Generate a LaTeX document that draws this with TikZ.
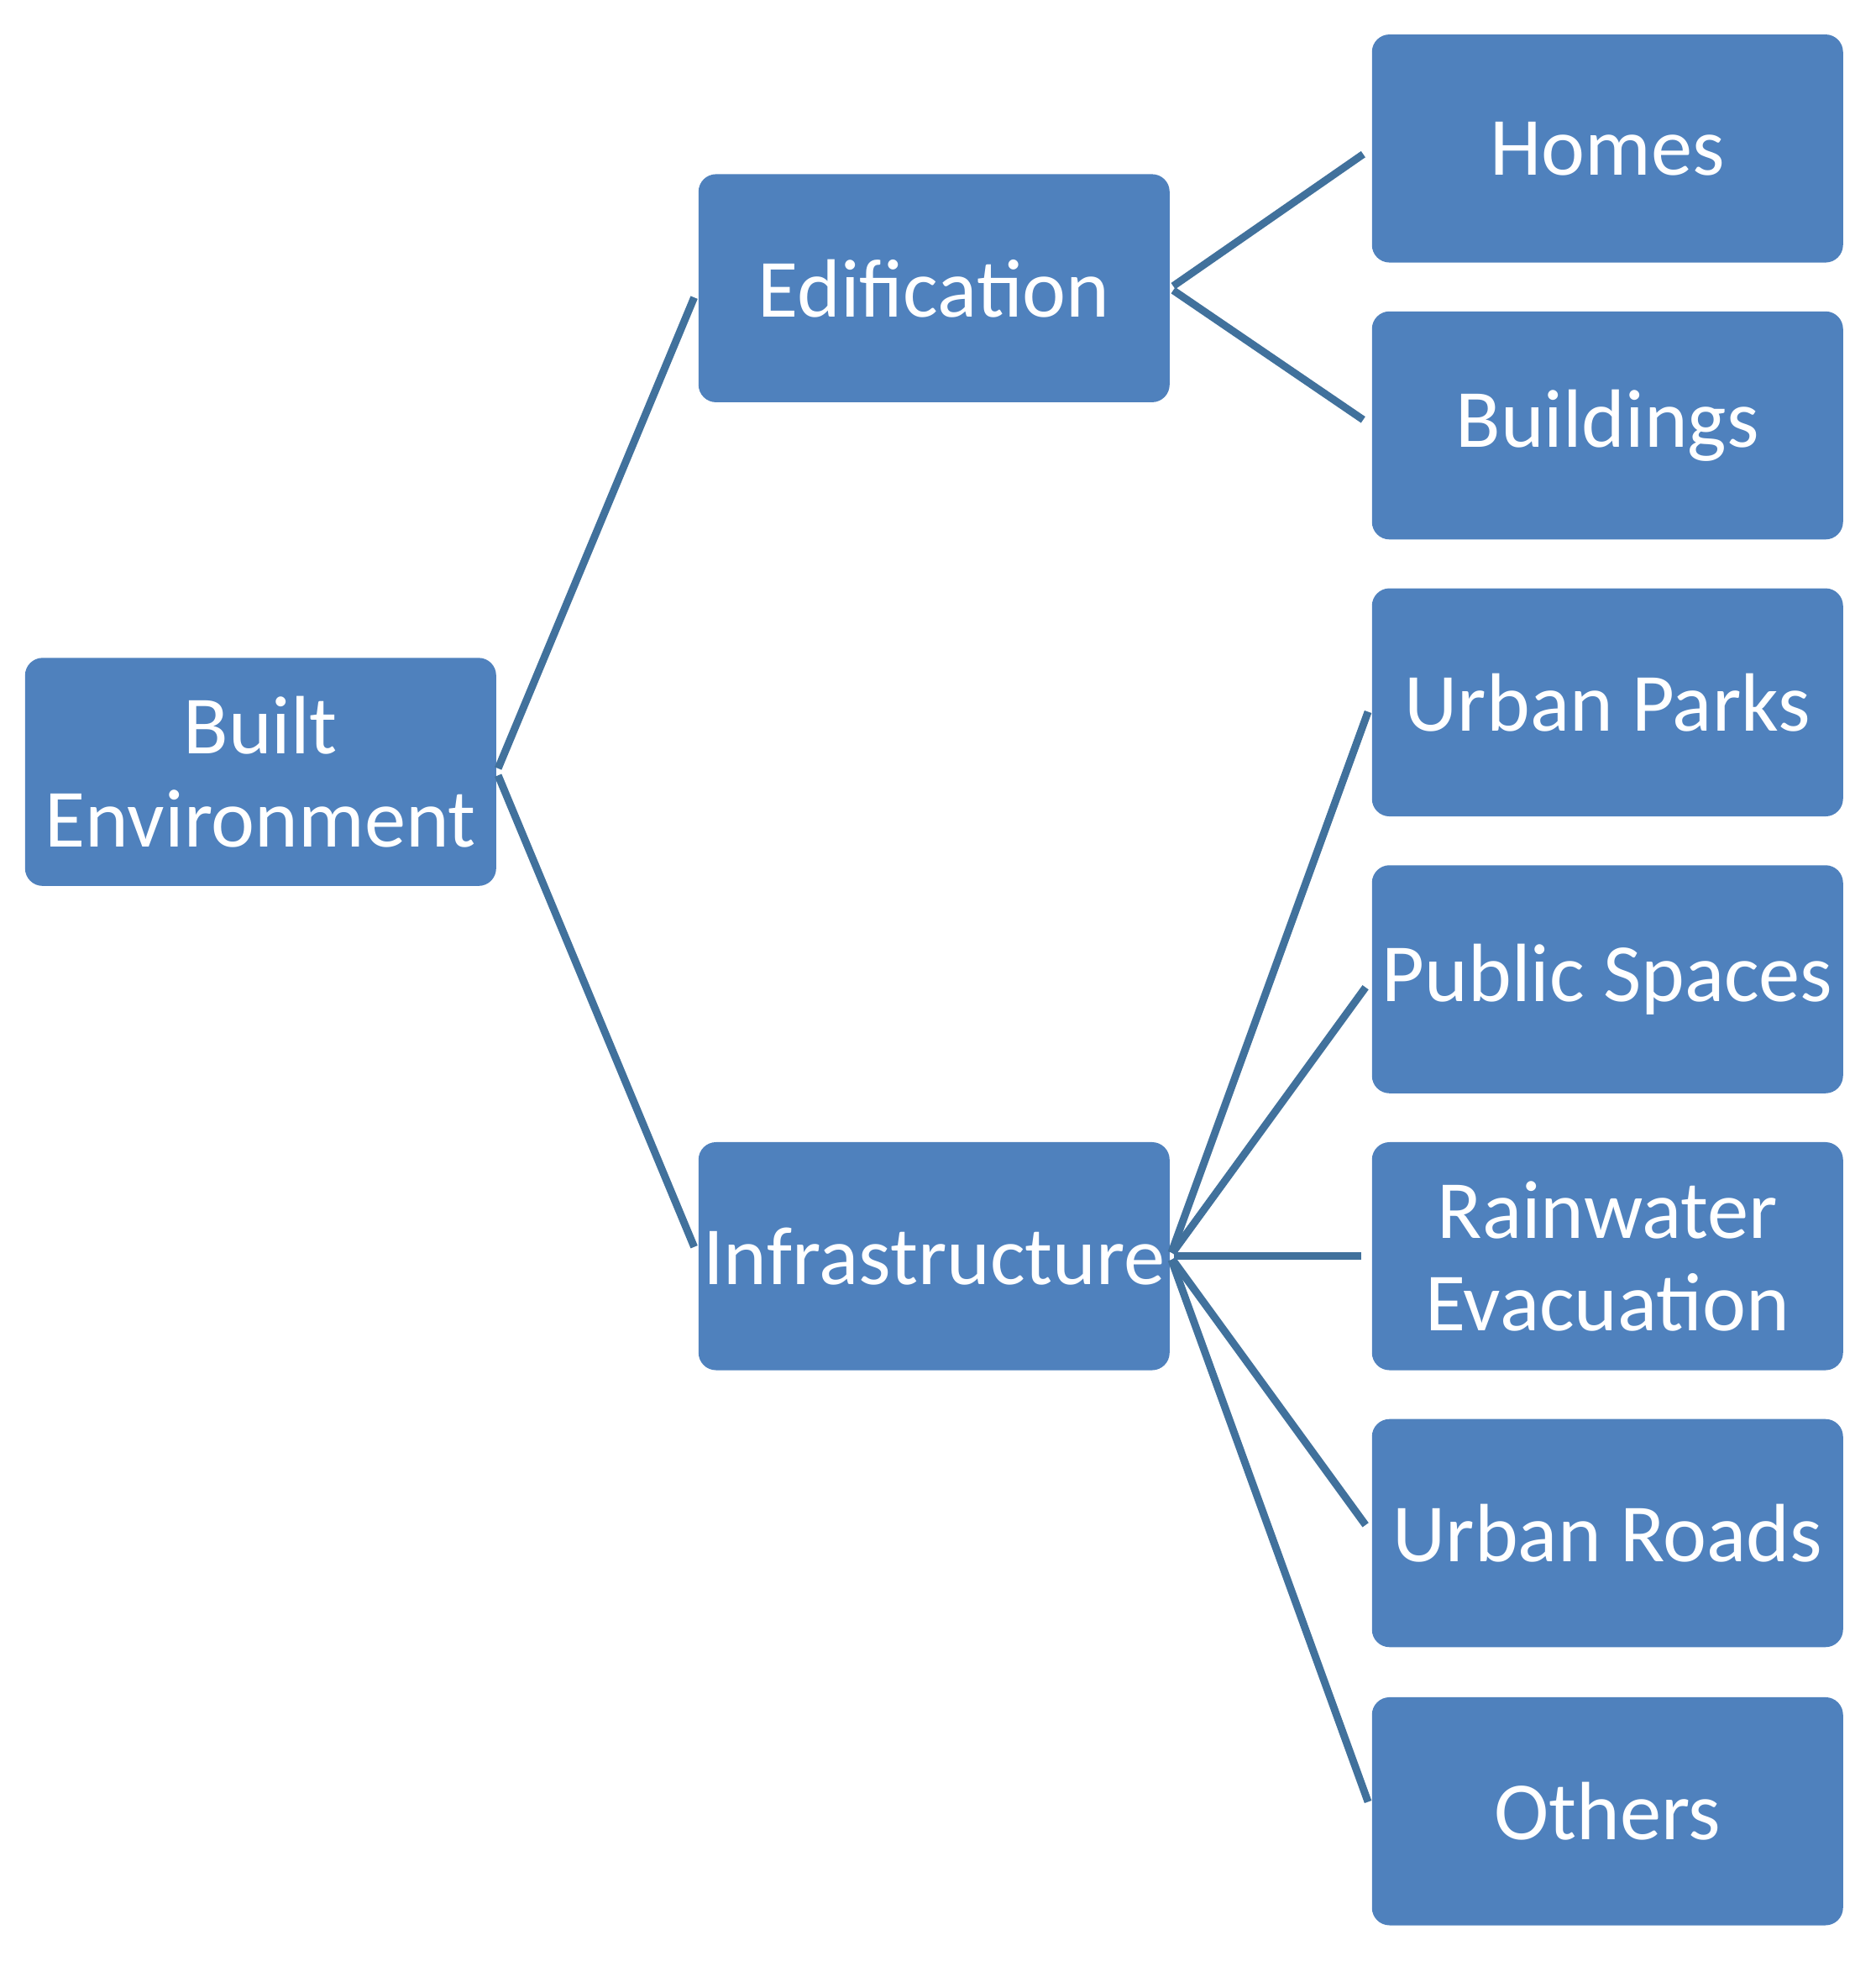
\documentclass[tikz,border=0pt]{standalone}
\usepackage{fontspec}
\setmainfont{Carlito}
\begin{document}
\begin{tikzpicture}[x=0.5pt,y=-0.5pt,
  box/.style={draw=none,fill={rgb,255:red,79;green,129;blue,189},rounded corners=7pt,
    minimum width=188pt,minimum height=91pt,inner sep=0pt,text=white,
    font=\fontsize{33}{37}\selectfont,align=center},
  link/.style={draw={rgb,255:red,65;green,113;blue,156},line width=3pt,shorten <=1.5pt,shorten >=4pt}]
\useasboundingbox (0,0) rectangle (1497,1565);
\node[box] (be) at (208,616) {Built\\Environment};
\node[box] (ed) at (745.5,230) {Edification};
\node[box] (in) at (745.5,1002.5) {Infrastructure};
\node[box] (ho) at (1283,118.5) {Homes};
\node[box] (bu) at (1283,339.5) {Buildings};
\node[box] (up) at (1283,560.5) {Urban Parks};
\node[box] (ps) at (1283,781.5) {Public Spaces};
\node[box] (rw) at (1283,1002.5) {Rainwater\\Evacuation};
\node[box] (ur) at (1283,1223.5) {Urban Roads};
\node[box] (ot) at (1283,1445.5) {Others};
\draw[link] (be.east) -- (ed.west);
\draw[link] (be.east) -- (in.west);
\draw[link] (ed.east) -- (ho.west);
\draw[link] (ed.east) -- (bu.west);
\foreach \t in {up,ps,rw,ur,ot} \draw[link] (in.east) -- (\t.west);
\end{tikzpicture}
\end{document}
